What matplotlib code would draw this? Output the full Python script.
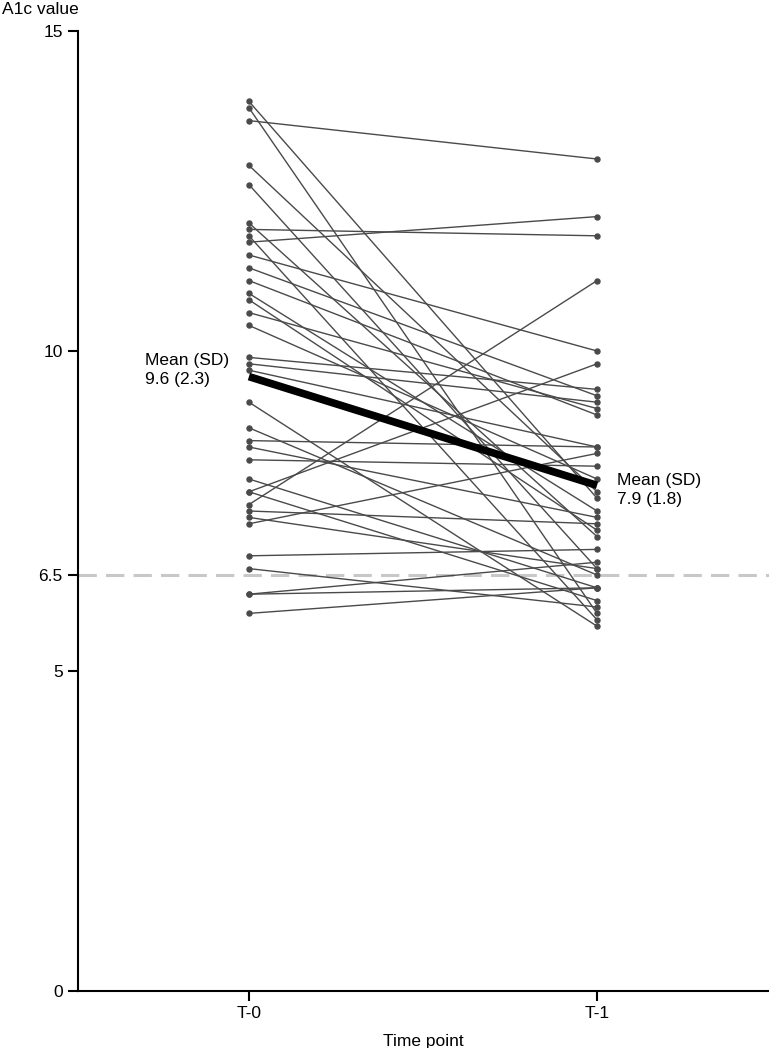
import numpy as np
import matplotlib
matplotlib.use("Agg")
import matplotlib.pyplot as plt

plt.rcParams["font.family"] = ["Liberation Sans", "DejaVu Sans"]

# A1c per patient at the two time points
a1c_t0 = [13.9, 13.8, 13.6, 12.9, 12.6, 12.0, 11.9, 11.8, 11.7, 11.5,
          11.3, 11.1, 10.9, 10.8, 10.6, 10.4, 9.9, 9.8, 9.7, 9.2,
          8.8, 8.6, 8.5, 8.3, 8.0, 7.8, 7.8, 7.6, 7.5, 7.4,
          7.3, 6.8, 6.6, 6.2, 6.2, 5.9]
a1c_t1 = [7.7, 5.9, 13.0, 7.8, 6.6, 7.1, 11.8, 5.8, 12.1, 10.0,
          9.3, 9.0, 7.5, 7.2, 9.1, 8.0, 9.4, 9.2, 8.5, 5.7,
          6.5, 8.5, 7.4, 8.2, 6.3, 9.8, 6.1, 11.1, 7.3, 6.6,
          8.4, 6.9, 6.0, 6.7, 6.3, 6.3]

time_labels = ["T-0", "T-1"]
mean_vals = [9.6, 7.9]
sd_vals = [2.3, 1.8]
target = 6.5
yticks = [0, 5, 6.5, 10, 15]

fig = plt.figure(figsize=(7.69, 10.48), dpi=100)
ax = fig.add_axes([78 / 769, 57 / 1048, 691 / 769, 960 / 1048])

xs = [0, 1]
for v0, v1 in zip(a1c_t0, a1c_t1):
    ax.plot(xs, [v0, v1], color="#4a4a4a", lw=1.0, marker="o", ms=3.6,
            mfc="#4a4a4a", mec="#4a4a4a", zorder=2)

ax.axhline(target, color="#c8c8c8", lw=2.2, ls=(0, (6, 3)), zorder=1)
ax.plot(xs, mean_vals, color="black", lw=5.5, solid_capstyle="butt", zorder=3)

ax.text(-0.299, mean_vals[0] + 0.1, f"Mean (SD)\n{mean_vals[0]} ({sd_vals[0]})",
        ha="left", va="center", fontsize=12.5, linespacing=1.3)
ax.text(1.057, mean_vals[1] - 0.07, f"Mean (SD)\n{mean_vals[1]} ({sd_vals[1]})",
        ha="left", va="center", fontsize=12.5, linespacing=1.3)

ax.set_xlim(-0.491, 1.494)
ax.set_ylim(0, 15)
ax.set_xticks(xs)
ax.set_xticklabels(time_labels)
ax.set_yticks(yticks)
ax.set_yticklabels(["0", "5", "6.5", "10", "15"])
ax.tick_params(labelsize=12.5, width=1.5, length=7, color="black", pad=4)
for side in ["top", "right"]:
    ax.spines[side].set_visible(False)
for side in ["left", "bottom"]:
    ax.spines[side].set_linewidth(1.5)

ax.set_xlabel("Time point", fontsize=12.5, labelpad=9)
fig.text(0.002, 1 - 9 / 1048, "A1c value", ha="left", va="center", fontsize=12.5)

fig.savefig("out.png", dpi=100)
